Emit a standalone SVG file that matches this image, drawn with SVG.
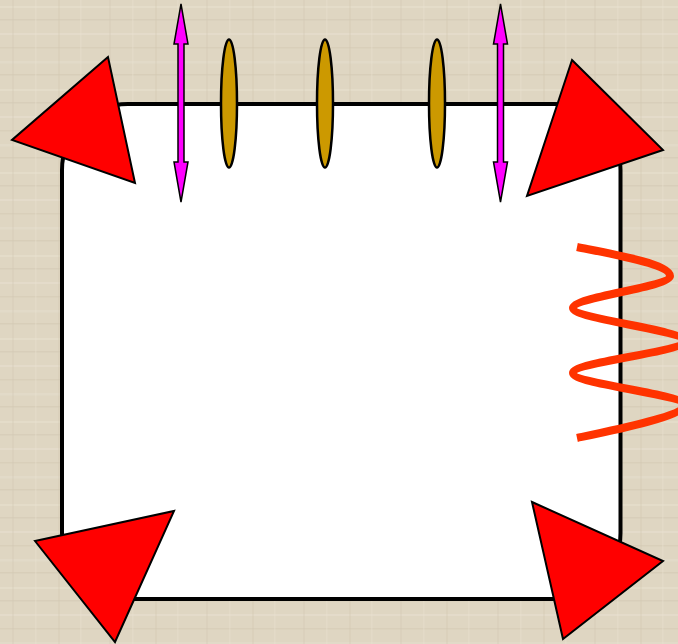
<svg xmlns="http://www.w3.org/2000/svg" width="678" height="644" viewBox="0 0 678 644">
<defs>
<style>
.tri{fill:#FF0000;stroke:#000;stroke-width:2;stroke-linejoin:miter}
.ell{fill:#CC9900;stroke:#000;stroke-width:2.5}
.dbl{fill:#FF00FF;stroke:#000;stroke-width:1.5;stroke-linejoin:miter}
</style>
<pattern id="tex" width="97" height="83" patternUnits="userSpaceOnUse">
<rect width="97" height="83" fill="#DFD6C2"/>
<rect x="0" y="6" width="97" height="2" fill="#E9E1CF" opacity="0.5"/>
<rect x="0" y="19" width="97" height="1.5" fill="#CEC4AE" opacity="0.4"/>
<rect x="0" y="33" width="97" height="2" fill="#EBE3D2" opacity="0.45"/>
<rect x="0" y="47" width="97" height="1.5" fill="#D0C6B0" opacity="0.4"/>
<rect x="0" y="61" width="97" height="2.5" fill="#E8E0CE" opacity="0.45"/>
<rect x="0" y="74" width="97" height="1.5" fill="#CDC3AD" opacity="0.4"/>
<rect x="12" y="0" width="2" height="83" fill="#D3C9B4" opacity="0.3"/>
<rect x="35" y="0" width="1.5" height="83" fill="#E9E1D0" opacity="0.35"/>
<rect x="58" y="0" width="2" height="83" fill="#D1C7B2" opacity="0.3"/>
<rect x="80" y="0" width="1.5" height="83" fill="#EAE2D1" opacity="0.35"/>
</pattern>
</defs>
<rect id="background" x="0" y="0" width="678" height="644" fill="url(#tex)"/>
<g id="panel">
<rect x="62" y="104" width="558.5" height="495" rx="66" ry="66" fill="#FFFFFF" stroke="#000" stroke-width="4"/>
</g>
<g id="rings">
<ellipse id="ring1" class="ell" cx="229" cy="103.5" rx="8" ry="64"/>
<ellipse id="ring2" class="ell" cx="325" cy="103.5" rx="8" ry="64"/>
<ellipse id="ring3" class="ell" cx="437" cy="103.5" rx="8" ry="64"/>
</g>
<g id="arrows">
<polygon id="arrow-left" class="dbl" points="181,4 188,44 184,44 184,162 188,162 181,202 174,162 178,162 178,44 174,44"/>
<polygon id="arrow-right" class="dbl" points="500.5,4 507.5,44 503.5,44 503.5,162 507.5,162 500.5,202 493.5,162 497.5,162 497.5,44 493.5,44"/>
</g>
<g id="wave">
<path d="M577,247 C612,254 670,264 670,276 C670,287 573,297 573,308 C573,319 684,330 684,341 C684,352 573,362 573,373 C573,384 684,394 684,405 C684,416 615,430 577,438" fill="none" stroke="#FF3300" stroke-width="8"/>
</g>
<g id="triangles">
<polygon id="tri-tl" class="tri" points="108,57 12,140 135,183"/>
<polygon id="tri-tr" class="tri" points="572,60 663,150 527,196"/>
<polygon id="tri-bl" class="tri" points="35,541 174,511 115,642"/>
<polygon id="tri-br" class="tri" points="532,502 663,561 563,639"/>
</g>
</svg>
